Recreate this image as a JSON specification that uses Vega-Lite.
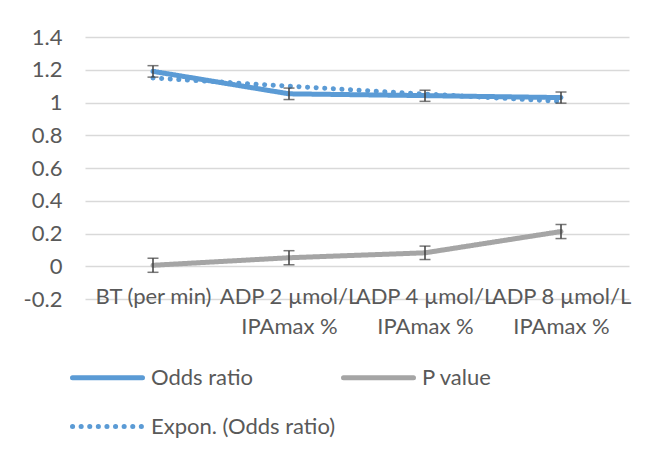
{
  "$schema": "https://vega.github.io/schema/vega-lite/v6.json",
  "width": 544,
  "height": 262,
  "autosize": {"type": "none"},
  "padding": {"left": 85, "top": 37, "right": 23, "bottom": 156},
  "background": "white",
  "config": {
    "font": "Lato",
    "view": {"stroke": null},
    "axis": {"labelColor": "#595959", "labelFontSize": 22, "labelFont": "Lato"}
  },
  "data": {
    "values": [
      {"category": "BT (per min)", "series": "Odds ratio", "value": 1.19, "lo": 1.155, "hi": 1.225},
      {"category": "ADP 2 µmol/L IPAmax %", "series": "Odds ratio", "value": 1.053, "lo": 1.018, "hi": 1.088},
      {"category": "ADP 4 µmol/L IPAmax %", "series": "Odds ratio", "value": 1.042, "lo": 1.007, "hi": 1.075},
      {"category": "ADP 8 µmol/L IPAmax %", "series": "Odds ratio", "value": 1.03, "lo": 0.996, "hi": 1.064},
      {"category": "BT (per min)", "series": "P value", "value": 0.006, "lo": -0.037, "hi": 0.049},
      {"category": "ADP 2 µmol/L IPAmax %", "series": "P value", "value": 0.052, "lo": 0.009, "hi": 0.095},
      {"category": "ADP 4 µmol/L IPAmax %", "series": "P value", "value": 0.082, "lo": 0.041, "hi": 0.123},
      {"category": "ADP 8 µmol/L IPAmax %", "series": "P value", "value": 0.212, "lo": 0.169, "hi": 0.255},
      {"category": "BT (per min)", "series": "Expon. (Odds ratio)", "value": 1.15},
      {"category": "ADP 2 µmol/L IPAmax %", "series": "Expon. (Odds ratio)", "value": 1.1},
      {"category": "ADP 4 µmol/L IPAmax %", "series": "Expon. (Odds ratio)", "value": 1.052},
      {"category": "ADP 8 µmol/L IPAmax %", "series": "Expon. (Odds ratio)", "value": 1.007}
    ]
  },
  "encoding": {
    "x": {
      "field": "category",
      "type": "nominal",
      "sort": ["BT (per min)", "ADP 2 µmol/L IPAmax %", "ADP 4 µmol/L IPAmax %", "ADP 8 µmol/L IPAmax %"],
      "scale": {"type": "point", "padding": 0.5},
      "axis": {
        "title": null,
        "domain": false,
        "ticks": false,
        "grid": false,
        "labelAngle": 0,
        "labelOverlap": false,
        "labelFlush": false,
        "labelLimit": 300,
        "labelBaseline": "top",
        "labelPadding": -13,
        "labelLineHeight": 30,
        "labelExpr": "split(replace(datum.label, ' IPAmax', '|IPAmax'), '|')"
      }
    },
    "y": {
      "type": "quantitative",
      "scale": {"domain": [-0.2, 1.4], "nice": false, "zero": false},
      "axis": {
        "title": null,
        "domain": false,
        "ticks": false,
        "labelPadding": 23,
        "gridColor": "#D9D9D9",
        "gridWidth": 1.3,
        "values": [-0.2, 0, 0.2, 0.4, 0.6, 0.8, 1, 1.2, 1.4],
        "labelExpr": "replace(format(datum.value, '~g'), '−', '-')"
      }
    },
    "color": {
      "field": "series",
      "type": "nominal",
      "scale": {"domain": ["Odds ratio", "P value", "Expon. (Odds ratio)"], "range": ["#5B9BD5", "#A5A5A5", "#5B9BD5"]},
      "legend": {
        "title": null,
        "orient": "none",
        "direction": "horizontal",
        "legendX": -15,
        "legendY": 303,
        "columns": 2,
        "columnPadding": -3,
        "rowPadding": -4,
        "padding": 0,
        "symbolType": "stroke",
        "symbolSize": 4900,
        "labelFontSize": 22,
        "labelFont": "Lato",
        "labelColor": "#595959",
        "labelOffset": 6,
        "labelLimit": 300,
        "encode": {"symbols": {"update": {"strokeCap": {"value": "round"}}}}
      }
    },
    "strokeDash": {
      "field": "series",
      "type": "nominal",
      "scale": {"domain": ["Odds ratio", "P value", "Expon. (Odds ratio)"], "range": [[1, 0], [1, 0], [0.1, 8.5]]}
    },
    "strokeWidth": {
      "field": "series",
      "type": "nominal",
      "scale": {"domain": ["Odds ratio", "P value", "Expon. (Odds ratio)"], "range": [5, 5, 3]}
    }
  },
  "layer": [
    {
      "transform": [{"filter": "datum.series !== 'Expon. (Odds ratio)'"}],
      "mark": {"type": "line", "strokeCap": "round", "strokeJoin": "round"},
      "encoding": {
        "y": {"field": "value"}
      }
    },
    {
      "transform": [{"filter": "datum.series === 'Expon. (Odds ratio)'"}],
      "mark": {"type": "line", "interpolate": "monotone", "strokeCap": "round"},
      "encoding": {
        "y": {"field": "value"}
      }
    },
    {
      "transform": [{"filter": "datum.series !== 'Expon. (Odds ratio)'"}],
      "mark": {"type": "errorbar", "color": "#404040", "thickness": 1.5, "ticks": {"size": 11, "color": "#404040", "thickness": 1.5}},
      "encoding": {
        "y": {"field": "lo"},
        "y2": {"field": "hi"},
        "color": {"value": "#404040"},
        "strokeDash": {"value": [1, 0]},
        "strokeWidth": {"value": 1.5},
        "detail": {"field": "series"}
      }
    }
  ]
}
